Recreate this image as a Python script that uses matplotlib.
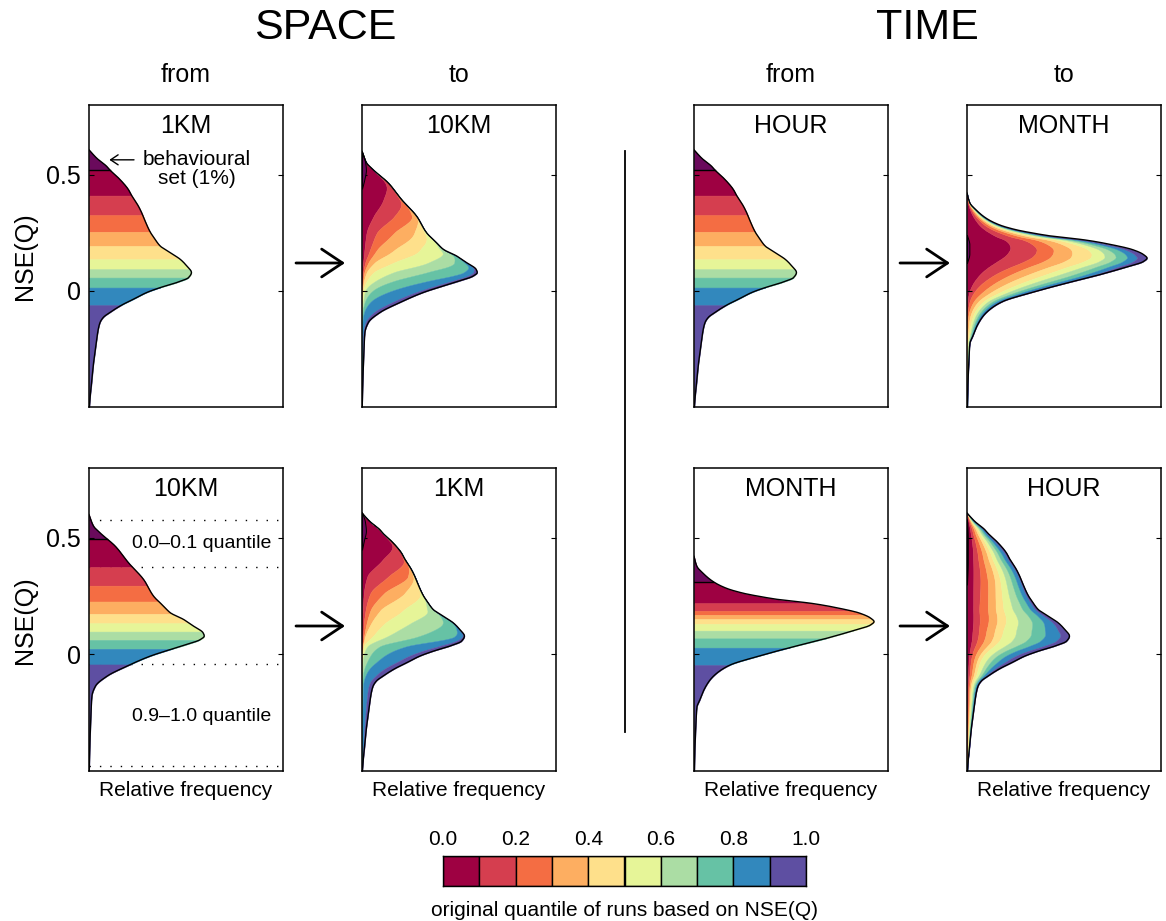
import numpy as np
import matplotlib
matplotlib.use('Agg')
import matplotlib.pyplot as plt
from matplotlib.patches import FancyArrowPatch, Rectangle
from matplotlib.lines import Line2D

plt.rcParams['font.family'] = ['Liberation Sans', 'DejaVu Sans']

# ---------------- colours / legend ----------------
quantile_colors = ['#9e0142', '#d53e4f', '#f46d43', '#fdae61', '#fee08b',
                   '#e6f598', '#abdda4', '#66c2a5', '#3288bd', '#5e4fa2']
behav_color = '#6a0a5c'
quantile_ticks = [0.0, 0.2, 0.4, 0.6, 0.8, 1.0]

# ---------------- total distributions (NSE value, relative frequency) ----------------
nse_1km = [0.607, 0.571, 0.536, 0.52, 0.479, 0.436, 0.41, 0.364, 0.326, 0.293, 0.254,
           0.221, 0.193, 0.164, 0.136, 0.107, 0.079, 0.057, 0.036, 0.014, -0.007,
           -0.036, -0.061, -0.093, -0.114, -0.136, -0.164, -0.207, -0.264, -0.321,
           -0.393, -0.464, -0.50]
freq_1km = [0.0, 0.040, 0.091, 0.108, 0.160, 0.203, 0.220, 0.255, 0.277, 0.293, 0.315,
            0.341, 0.367, 0.418, 0.470, 0.504, 0.528, 0.513, 0.453, 0.367, 0.298,
            0.229, 0.169, 0.108, 0.074, 0.057, 0.048, 0.040, 0.031, 0.022,
            0.014, 0.005, 0.002]

nse_10km = [0.60, 0.55, 0.521, 0.464, 0.393, 0.321, 0.25, 0.207, 0.179, 0.15, 0.121,
            0.093, 0.079, 0.064, 0.043, 0.021, -0.007, -0.05, -0.093, -0.136, -0.179,
            -0.25, -0.321, -0.393, -0.464, -0.5]
freq_10km = [0.0, 0.024, 0.058, 0.136, 0.204, 0.282, 0.333, 0.385, 0.419, 0.488, 0.54,
             0.588, 0.594, 0.574, 0.505, 0.419, 0.316, 0.196, 0.093, 0.033, 0.015,
             0.010, 0.007, 0.004, 0.002, 0.001]

nse_hour = nse_1km
freq_hour = freq_1km

nse_month = [0.421, 0.378, 0.349, 0.313, 0.284, 0.263, 0.249, 0.234, 0.22, 0.198, 0.177,
             0.155, 0.141, 0.126, 0.102, 0.069, 0.029, -0.01, -0.046, -0.082, -0.111,
             -0.154, -0.197, -0.226, -0.312, -0.455, -0.5]
freq_month = [0.0, 0.015, 0.046, 0.098, 0.167, 0.253, 0.338, 0.45, 0.60, 0.75, 0.855,
              0.912, 0.928, 0.909, 0.82, 0.682, 0.493, 0.321, 0.184, 0.115, 0.081,
              0.05, 0.029, 0.015, 0.009, 0.003, 0.002]

# ---------------- quantile band limits of the "from" panels ----------------
# first value: behavioural (top 1 %) limit, then the 0.1 ... 0.9 quantile limits
bands_1km = [0.52, 0.41, 0.326, 0.254, 0.193, 0.136, 0.093, 0.057, 0.014, -0.062]
bands_hour = [0.52, 0.41, 0.326, 0.254, 0.193, 0.136, 0.093, 0.057, 0.014, -0.062]
bands_10km = [0.496, 0.375, 0.295, 0.227, 0.174, 0.134, 0.098, 0.062, 0.024, -0.043]
bands_month = [0.313, 0.22, 0.187, 0.17, 0.152, 0.131, 0.102, 0.069, 0.029, -0.046]

# ---------------- composition of "to" panels (cumulative share of quantile groups) --------
to_10km_nse = [0.60, 0.52, 0.464, 0.393, 0.321, 0.25, 0.179, 0.121, 0.079, 0.043, 0.0,
               -0.05, -0.107, -0.19, -0.5]
to_10km_cum = [
    [1, 1, 1, 1, 1, 1, 1, 1, 1],
    [0.97, 1, 1, 1, 1, 1, 1, 1, 1],
    [0.88, 0.99, 1, 1, 1, 1, 1, 1, 1],
    [0.54, 0.95, 1, 1, 1, 1, 1, 1, 1],
    [0.21, 0.59, 0.91, 0.99, 1, 1, 1, 1, 1],
    [0.07, 0.23, 0.50, 0.81, 0.97, 1, 1, 1, 1],
    [0.03, 0.10, 0.19, 0.41, 0.72, 0.96, 1, 1, 1],
    [0.01, 0.03, 0.06, 0.12, 0.30, 0.63, 0.88, 0.98, 1],
    [0.0, 0.01, 0.02, 0.04, 0.10, 0.27, 0.56, 0.88, 0.965],
    [0, 0.005, 0.01, 0.02, 0.05, 0.14, 0.33, 0.68, 0.92],
    [0, 0, 0, 0.01, 0.02, 0.05, 0.16, 0.45, 0.88],
    [0, 0, 0, 0, 0.01, 0.03, 0.07, 0.21, 0.78],
    [0, 0, 0, 0, 0, 0.01, 0.03, 0.10, 0.62],
    [0, 0, 0, 0, 0, 0, 0.01, 0.05, 0.50],
    [0, 0, 0, 0, 0, 0, 0, 0.03, 0.45],
]

to_1km_nse = [0.61, 0.52, 0.478, 0.407, 0.335, 0.263, 0.191, 0.134, 0.076, 0.033,
              -0.024, -0.082, -0.139, -0.5]
to_1km_cum = [
    [1, 1, 1, 1, 1, 1, 1, 1, 1],
    [0.97, 1, 1, 1, 1, 1, 1, 1, 1],
    [0.93, 1, 1, 1, 1, 1, 1, 1, 1],
    [0.48, 0.96, 1, 1, 1, 1, 1, 1, 1],
    [0.10, 0.50, 0.87, 0.97, 1, 1, 1, 1, 1],
    [0.03, 0.14, 0.37, 0.71, 0.97, 1, 1, 1, 1],
    [0.01, 0.05, 0.12, 0.26, 0.58, 0.91, 1, 1, 1],
    [0.0, 0.02, 0.05, 0.10, 0.25, 0.53, 0.88, 0.99, 1],
    [0, 0.01, 0.02, 0.03, 0.10, 0.24, 0.54, 0.90, 0.98],
    [0, 0, 0.01, 0.01, 0.02, 0.06, 0.20, 0.50, 0.87],
    [0, 0, 0, 0, 0.01, 0.02, 0.12, 0.34, 0.78],
    [0, 0, 0, 0, 0, 0.01, 0.05, 0.18, 0.65],
    [0, 0, 0, 0, 0, 0, 0.02, 0.10, 0.60],
    [0, 0, 0, 0, 0, 0, 0, 0.05, 0.50],
]

to_month_nse = [0.42, 0.36, 0.30, 0.22, 0.16, 0.12, 0.064, -0.036, -0.15, -0.5]
to_month_cum = [
    [0.35, 0.50, 0.62, 0.71, 0.79, 0.85, 0.90, 0.94, 0.97],
    [0.33, 0.48, 0.60, 0.70, 0.78, 0.84, 0.89, 0.94, 0.97],
    [0.38, 0.54, 0.65, 0.74, 0.81, 0.87, 0.91, 0.95, 0.98],
    [0.32, 0.48, 0.59, 0.69, 0.77, 0.83, 0.88, 0.93, 0.97],
    [0.23, 0.39, 0.49, 0.60, 0.71, 0.78, 0.84, 0.90, 0.95],
    [0.16, 0.31, 0.42, 0.54, 0.65, 0.74, 0.81, 0.88, 0.94],
    [0.09, 0.20, 0.32, 0.45, 0.58, 0.69, 0.80, 0.89, 0.96],
    [0.02, 0.08, 0.20, 0.33, 0.47, 0.60, 0.72, 0.83, 0.93],
    [0.0, 0.01, 0.04, 0.16, 0.33, 0.50, 0.66, 0.80, 0.92],
    [0, 0, 0.02, 0.12, 0.28, 0.45, 0.62, 0.78, 0.90],
]

to_hour_nse = [0.58, 0.478, 0.335, 0.19, 0.08, -0.025, -0.12, -0.5]
to_hour_cum = [
    [0.18, 0.29, 0.40, 0.50, 0.59, 0.68, 0.77, 0.86, 0.94],
    [0.16, 0.27, 0.38, 0.49, 0.58, 0.67, 0.76, 0.85, 0.94],
    [0.12, 0.25, 0.38, 0.51, 0.61, 0.71, 0.81, 0.90, 0.97],
    [0.085, 0.17, 0.29, 0.40, 0.51, 0.64, 0.78, 0.89, 0.96],
    [0.05, 0.11, 0.18, 0.26, 0.34, 0.47, 0.62, 0.76, 0.91],
    [0.034, 0.08, 0.14, 0.21, 0.28, 0.40, 0.51, 0.66, 0.83],
    [0.05, 0.12, 0.22, 0.33, 0.45, 0.58, 0.70, 0.80, 0.90],
    [0.05, 0.12, 0.22, 0.33, 0.45, 0.58, 0.70, 0.80, 0.90],
]

# behavioural set in the "to" panels
behav_10km_nse = [0.60, 0.56, 0.52, 0.48, 0.44]
behav_10km_freq = [0.0, 0.015, 0.02, 0.012, 0.0]
behav_1km_nse = [0.61, 0.57, 0.53, 0.49, 0.45]
behav_1km_freq = [0.0, 0.015, 0.02, 0.01, 0.0]
behav_month_nse = [0.24, 0.20, 0.16, 0.12]
behav_month_freq = [0.0, 0.012, 0.012, 0.0]
behav_hour_nse = [0.58, 0.50, 0.40, 0.30]
behav_hour_freq = [0.0, 0.004, 0.004, 0.0]


# ---------------- helpers ----------------
def smooth(xk, yk, xnew):
    """monotone cubic (PCHIP-like) curve through the read points"""
    xk = np.asarray(xk, float)
    yk = np.asarray(yk, float)
    o = np.argsort(xk)
    xk, yk = xk[o], yk[o]
    h = np.diff(xk)
    d = np.diff(yk) / h
    m = np.zeros_like(yk)
    m[0], m[-1] = d[0], d[-1]
    for k in range(1, len(xk) - 1):
        if d[k - 1] * d[k] > 0:
            w1 = 2 * h[k] + h[k - 1]
            w2 = h[k] + 2 * h[k - 1]
            m[k] = (w1 + w2) / (w1 / d[k - 1] + w2 / d[k])
    xnew = np.asarray(xnew, float)
    i = np.clip(np.searchsorted(xk, xnew) - 1, 0, len(xk) - 2)
    t = (xnew - xk[i]) / h[i]
    h00 = 2 * t**3 - 3 * t**2 + 1
    h10 = t**3 - 2 * t**2 + t
    h01 = -2 * t**3 + 3 * t**2
    h11 = t**3 - t**2
    return h00 * yk[i] + h10 * h[i] * m[i] + h01 * yk[i + 1] + h11 * h[i] * m[i + 1]


def draw_from(ax, nse, freq, bands):
    top, bot = max(nse), min(nse)
    limits = [top] + list(bands) + [bot]
    cols = [behav_color] + quantile_colors
    for k in range(len(limits) - 1):
        yb = np.linspace(limits[k + 1], limits[k], 120)
        xb = np.clip(smooth(nse, freq, yb), 0, None)
        ax.fill_betweenx(yb, 0, xb, facecolor=cols[k], edgecolor=cols[k], lw=0.4, zorder=1)
    yy = np.linspace(bot, top, 800)
    ax.plot(np.clip(smooth(nse, freq, yy), 0, None), yy, color='k', lw=1.0, zorder=3)
    xb0 = float(smooth(nse, freq, [bands[0]])[0])
    ax.plot([0, xb0], [bands[0], bands[0]], color='k', lw=1.0, zorder=3)


def draw_to(ax, nse, freq, comp_nse, comp_cum, b_nse, b_freq):
    top, bot = max(nse), min(nse)
    yy = np.linspace(bot, top, 800)
    total = np.clip(smooth(nse, freq, yy), 0, None)
    cum = np.array(comp_cum, float)
    shares = np.array([np.clip(smooth(comp_nse, cum[:, k], yy), 0, 1) for k in range(cum.shape[1])])
    shares = np.maximum.accumulate(shares, axis=0)
    edges = [np.zeros_like(yy)] + [s * total for s in shares] + [total]
    for k in range(10):
        ax.fill_betweenx(yy, edges[k], edges[k + 1], facecolor=quantile_colors[k],
                         edgecolor=quantile_colors[k], lw=0.3, zorder=1)
    ax.plot(total, yy, color='k', lw=1.0, zorder=3)
    yb = np.linspace(min(b_nse), max(b_nse), 100)
    xb = np.clip(smooth(b_nse, b_freq, yb), 0, None)
    ax.fill_betweenx(yb, 0, xb, facecolor=behav_color, edgecolor='k', lw=0.7, zorder=2)


# ---------------- figure ----------------
FW, FH = 1166, 921
fig = plt.figure(figsize=(FW / 100, FH / 100), dpi=100)

cols_x = [89, 362, 694, 967]
panel_w = 194
rows_y = [(105, 407), (468, 771)]

panels = [
    [('from', '1KM', nse_1km, freq_1km, bands_1km),
     ('to', '10KM', nse_10km, freq_10km, to_10km_nse, to_10km_cum, behav_10km_nse, behav_10km_freq),
     ('from', 'HOUR', nse_hour, freq_hour, bands_hour),
     ('to', 'MONTH', nse_month, freq_month, to_month_nse, to_month_cum, behav_month_nse, behav_month_freq)],
    [('from', '10KM', nse_10km, freq_10km, bands_10km),
     ('to', '1KM', nse_1km, freq_1km, to_1km_nse, to_1km_cum, behav_1km_nse, behav_1km_freq),
     ('from', 'MONTH', nse_month, freq_month, bands_month),
     ('to', 'HOUR', nse_hour, freq_hour, to_hour_nse, to_hour_cum, behav_hour_nse, behav_hour_freq)],
]

axes = {}
for r, (ytop, ybot) in enumerate(rows_y):
    for c, x0 in enumerate(cols_x):
        ax = fig.add_axes([x0 / FW, 1 - ybot / FH, panel_w / FW, (ybot - ytop) / FH])
        axes[(r, c)] = ax
        spec = panels[r][c]
        if r == 1 and c == 0:
            for yd in [0.577, 0.376, -0.043, -0.48]:
                ax.axhline(yd, color='k', lw=1.0, ls=(0, (1, 6.5)), zorder=0.5)
        if spec[0] == 'from':
            draw_from(ax, spec[2], spec[3], spec[4])
        else:
            draw_to(ax, *spec[2:])
        ax.set_xlim(0, 1)
        ax.set_ylim(-0.5, 0.8)
        ax.set_xticks([])
        ax.set_yticks([0, 0.5])
        if c == 0:
            ax.set_yticklabels(['0', '0.5'], fontsize=18)
        else:
            ax.set_yticklabels(['', ''])
        ax.tick_params(axis='y', direction='in', length=3.5, width=0.8, left=True,
                       right=True, pad=6)
        for s in ax.spines.values():
            s.set_linewidth(1.1)
        ax.text(0.5, 0.907, spec[1], transform=ax.transAxes, ha='center',
                va='baseline', fontsize=18)
        if r == 1:
            ax.text(0.5, -0.063, 'Relative frequency', transform=ax.transAxes,
                    ha='center', va='center', fontsize=15)

# annotations inside the left panels
a0 = axes[(0, 0)]
a0.text(0.557, 0.524, 'behavioural\nset (1%)', ha='center', va='center', fontsize=15,
        linespacing=1.0)
a0.annotate('', xy=(0.105, 0.564), xytext=(0.232, 0.564),
            arrowprops=dict(arrowstyle='->,head_length=0.45,head_width=0.3',
                            lw=1.0, color='k', mutation_scale=12, shrinkA=0, shrinkB=0))
a1 = axes[(1, 0)]
a1.text(0.582, 0.475, '0.0\u20130.1 quantile', ha='center', va='center', fontsize=14)
a1.text(0.582, -0.268, '0.9\u20131.0 quantile', ha='center', va='center', fontsize=14)

# headings
fig.text(325 / FW, 1 - 28 / FH, 'SPACE', ha='center', va='center', fontsize=31)
fig.text(927 / FW, 1 - 28 / FH, 'TIME', ha='center', va='center', fontsize=31)
for c, lab in enumerate(['from', 'to', 'from', 'to']):
    fig.text((cols_x[c] + panel_w / 2) / FW, 1 - 75 / FH, lab, ha='center',
             va='center', fontsize=18)
for yc in [256, 620]:
    fig.text(25 / FW, 1 - yc / FH, 'NSE(Q)', rotation=90, ha='center', va='center',
             fontsize=18)

# arrows between panels
for (xa, xb) in [(296, 345), (900, 950)]:
    for ya in [263, 626]:
        fig.add_artist(FancyArrowPatch((xa / FW, 1 - ya / FH), (xb / FW, 1 - ya / FH),
                                       transform=fig.transFigure,
                                       arrowstyle='->,head_length=0.75,head_width=0.5',
                                       mutation_scale=20, lw=2.0, color='k',
                                       shrinkA=0, shrinkB=0))

# vertical separator
fig.add_artist(Line2D([625 / FW, 625 / FW], [1 - 151 / FH, 1 - 732 / FH],
                      transform=fig.transFigure, color='k', lw=1.3))

# colour bar legend
cax = fig.add_axes([443 / FW, 1 - 886 / FH, 363 / FW, 30 / FH])
for k, col in enumerate(quantile_colors):
    cax.add_patch(Rectangle((k / 10, 0), 0.1, 1, facecolor=col, edgecolor='k', lw=1.0))
cax.set_xlim(0, 1)
cax.set_ylim(0, 1)
cax.set_yticks([])
cax.xaxis.tick_top()
cax.set_xticks(quantile_ticks)
cax.set_xticklabels(['%.1f' % v for v in quantile_ticks], fontsize=15)
cax.tick_params(axis='x', length=0, pad=5)
for s in cax.spines.values():
    s.set_linewidth(1.0)
cax.text(0.5, -0.8, 'original quantile of runs based on NSE(Q)', transform=cax.transAxes,
         ha='center', va='center', fontsize=15)

fig.savefig('out.png', dpi=100)
